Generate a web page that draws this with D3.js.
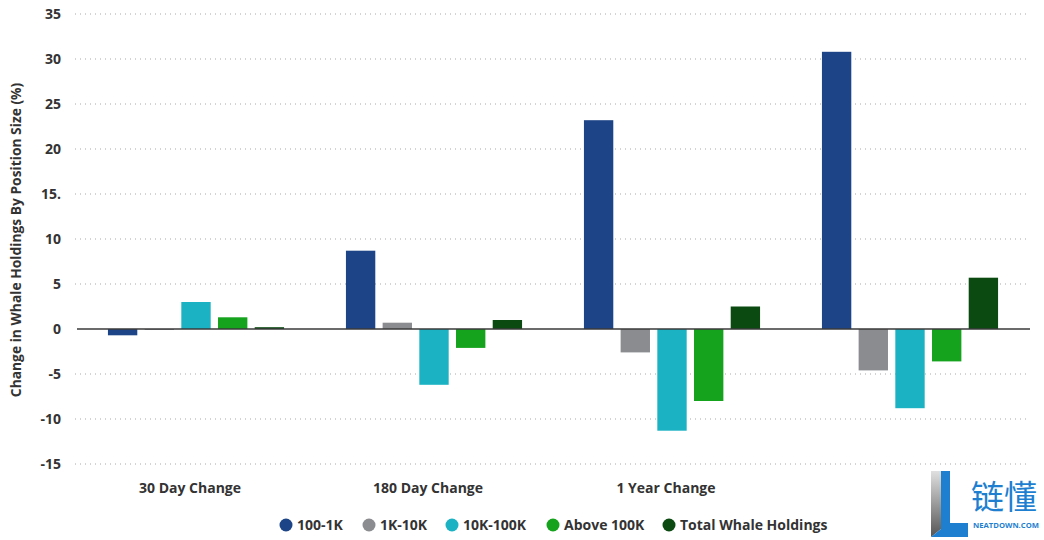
<!DOCTYPE html>
<html>
<head>
<meta charset="utf-8">
<script src="https://cdn.jsdelivr.net/npm/d3@7"></script>
<style>
  body { margin: 0; background: #fff; }
  svg { font-family: "Open Sans", "Noto Sans", sans-serif; }
</style>
</head>
<body>
<svg id="chart" width="1044" height="540"></svg>
<script>
// periods (last one carries no label in the original)
var periods = ["30 Day Change", "180 Day Change", "1 Year Change", ""];
var series = ["100-1K", "1K-10K", "10K-100K", "Above 100K", "Total Whale Holdings"];
var colors = ["#1d4486", "#8a8c8f", "#1bb3c3", "#15a21c", "#0b4a10"];

// values per series, one per period
var v100_1k   = [-0.7, 8.7, 23.2, 30.8];
var v1k_10k   = [-0.1, 0.7, -2.6, -4.6];
var v10k_100k = [3.0, -6.2, -11.3, -8.8];
var vAbove    = [1.3, -2.1, -8.0, -3.6];
var vTotal    = [0.2, 1.0, 2.5, 5.7];
var allValues = [v100_1k, v1k_10k, v10k_100k, vAbove, vTotal];

var yTicks = [35, 30, 25, 20, 15, 10, 5, 0, -5, -10, -15];
var yTickLabels = ["35", "30", "25", "20", "15.", "10", "5", "0", "-5", "-10", "-15"];

var svg = d3.select("#chart");

var y = d3.scaleLinear().domain([-15, 35]).range([464, 14]);

var x0 = d3.scaleBand()
    .domain(d3.range(periods.length))
    .range([77, 1029])
    .paddingInner(0.26)
    .paddingOuter(0.13);

var x1 = d3.scaleBand()
    .domain(d3.range(series.length))
    .range([0, x0.bandwidth()])
    .paddingInner(0.2);

// dotted grid lines
svg.append("g").selectAll("line").data(yTicks.filter(function(d) { return d != 0; })).enter()
    .append("line")
    .attr("x1", 75).attr("x2", 1030)
    .attr("y1", function(d) { return y(d); })
    .attr("y2", function(d) { return y(d); })
    .attr("stroke", "#a8a8a8")
    .attr("stroke-width", 1)
    .attr("stroke-dasharray", "1,4");

// y tick labels
svg.append("g").selectAll("text").data(yTicks).enter()
    .append("text")
    .attr("x", 61)
    .attr("y", function(d) { return y(d); })
    .attr("dy", "0.35em")
    .attr("text-anchor", "end")
    .attr("font-size", 14)
    .attr("font-weight", "bold")
    .attr("fill", "#333")
    .text(function(d, i) { return yTickLabels[i]; });

// y axis title
svg.append("text")
    .attr("transform", "translate(21,240) rotate(-90)")
    .attr("text-anchor", "middle")
    .attr("font-size", 13.8)
    .attr("font-weight", "bold")
    .attr("fill", "#333")
    .text("Change in Whale Holdings By Position Size (%)");

// bars
var groups = svg.append("g").selectAll("g").data(periods).enter()
    .append("g")
    .attr("transform", function(d, i) { return "translate(" + x0(i) + ",0)"; });

groups.selectAll("rect")
    .data(function(d, i) { return allValues.map(function(s, k) { return { k: k, v: s[i] }; }); })
    .enter().append("rect")
    .attr("x", function(d) { return x1(d.k); })
    .attr("width", x1.bandwidth())
    .attr("y", function(d) { return y(Math.max(0, d.v)); })
    .attr("height", function(d) { return Math.abs(y(d.v) - y(0)); })
    .attr("fill", function(d) { return colors[d.k]; });

// zero line
svg.append("line")
    .attr("x1", 77).attr("x2", 1030)
    .attr("y1", y(0)).attr("y2", y(0))
    .attr("stroke", "#3a3a3a")
    .attr("stroke-width", 1.5);

// x labels
svg.append("g").selectAll("text").data(periods).enter()
    .append("text")
    .attr("x", function(d, i) { return x0(i) + x0.bandwidth() / 2 - 6; })
    .attr("y", 493)
    .attr("text-anchor", "middle")
    .attr("font-size", 14)
    .attr("font-weight", "bold")
    .attr("fill", "#333")
    .text(function(d) { return d; });

// legend
var legendX = [286, 369, 452, 553, 669];
var legend = svg.append("g").selectAll("g").data(series).enter()
    .append("g")
    .attr("transform", function(d, i) { return "translate(" + legendX[i] + ",525)"; });
legend.append("circle").attr("r", 6.5).attr("fill", function(d, i) { return colors[i]; });
legend.append("text")
    .attr("x", 11).attr("dy", "0.35em")
    .attr("font-size", 14)
    .attr("font-weight", "bold")
    .attr("fill", "#333")
    .text(function(d) { return d; });

// watermark
var wm = svg.append("g").attr("transform", "translate(931,471)");
var grad = svg.append("defs").append("linearGradient").attr("id", "lg")
    .attr("x1", 0).attr("y1", 0).attr("x2", 0).attr("y2", 1);
grad.append("stop").attr("offset", "0").attr("stop-color", "#e0e0e0");
grad.append("stop").attr("offset", "1").attr("stop-color", "#555");
wm.append("path").attr("d", "M0,0 L10,0 L10,58 L0,66 Z").attr("fill", "url(#lg)");
wm.append("path").attr("d", "M10,0 L19,0 L19,52 L37,52 L37,66 L0,66 L10,58 Z").attr("fill", "#1e7fd0");
wm.append("text").attr("x", 40).attr("y", 38)
    .attr("font-family", "Noto Sans CJK SC").attr("font-size", 33)
    .attr("fill", "#1e7fd0").text("链懂");
wm.append("text").attr("x", 42).attr("y", 57)
    .attr("font-size", 7.5).attr("font-weight", "bold")
    .attr("textLength", 66).attr("lengthAdjust", "spacingAndGlyphs")
    .attr("fill", "#1e7fd0").text("NEATDOWN.COM");
</script>
</body>
</html>
